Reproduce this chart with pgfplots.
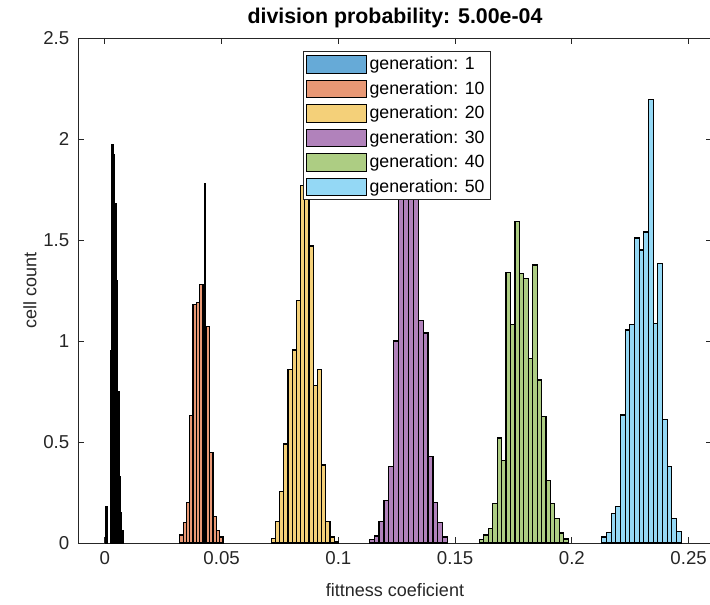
\documentclass[border=0pt]{standalone}
\usepackage{pgfplots}
\pgfplotsset{compat=1.18}
\usepackage{fontspec}
\setmainfont{Liberation Sans}
\definecolor{c1}{rgb}{0.40,0.668,0.845}
\definecolor{c2}{rgb}{0.91,0.595,0.459}
\definecolor{c3}{rgb}{0.957,0.816,0.475}
\definecolor{c4}{rgb}{0.696,0.510,0.734}
\definecolor{c5}{rgb}{0.680,0.804,0.513}
\definecolor{c6}{rgb}{0.581,0.847,0.960}
\definecolor{axgray}{rgb}{0.15,0.15,0.15}

\pgfplotstableread{
x y
0.0024 95000
0.0030 197000
0.0036 192000
0.0042 168000
0.0048 130000
0.0054 75000
0.0060 33000
0.0066 15000
0.0072 6000
0.0078 6000
}\genA
\pgfplotstableread{
x y
0.0002 18000
0.0009 18000
}\genAiso
\pgfplotstableread{
x y
0.03210 4000
0.03352 10000
0.03494 20000
0.03636 63000
0.03778 118000
0.03920 119000
0.04062 128000
0.04204 99000
0.04346 107000
0.04488 45000
0.04630 13000
0.04772 6000
0.04914 3000
0.05056 3000
}\genB
\pgfplotstableread{
x y
0.04270 178000
0.04290 178000
}\genBspike
\pgfplotstableread{
x y
0.0712 2300
0.0730 10500
0.0748 25400
0.0766 49000
0.0784 86000
0.0802 95500
0.0820 120000
0.0838 177000
0.0856 190000
0.0874 147000
0.0892 78000
0.0910 86000
0.0928 38600
0.0946 10500
0.0964 3000
0.0982 800
0.1000 800
}\genC
\pgfplotstableread{
x y
0.1132 1800
0.1153 3500
0.1174 10500
0.1195 21000
0.1216 38000
0.1237 100000
0.1258 185000
0.1279 200000
0.1300 205000
0.1321 190000
0.1342 110000
0.1363 104000
0.1384 43000
0.1405 20000
0.1426 10000
0.1447 3000
0.1468 3000
}\genD
\pgfplotstableread{
x y
0.1604 1800
0.1623 4000
0.1642 7300
0.1661 19700
0.1680 52000
0.1699 41000
0.1718 134000
0.1737 108000
0.1756 159000
0.1775 133500
0.1794 131000
0.1813 91400
0.1832 137600
0.1851 80700
0.1870 62500
0.1889 31000
0.1908 19700
0.1927 12000
0.1946 5000
0.1965 2000
0.1984 2000
}\genE
\pgfplotstableread{
x y
0.2128 3000
0.2148 5100
0.2168 14500
0.2188 18000
0.2208 63400
0.2228 105400
0.2248 108000
0.2268 151000
0.2288 145000
0.2308 154000
0.2328 219700
0.2348 108800
0.2368 138500
0.2388 61000
0.2408 37800
0.2428 12000
0.2448 5500
0.2468 5500
}\genF

\begin{document}
\begin{tikzpicture}
\begin{axis}[
  scale only axis,
  width=475.5pt, height=378.75pt,
  xmin=-0.0115, xmax=0.26, ymin=0, ymax=250000,
  axis line style={axgray, line width=0.6pt},
  tick style={axgray, line width=0.6pt},
  tick align=inside,
  xtick pos=both, ytick pos=both,
  major tick length=4.5pt,
  xtick={0,0.05,0.1,0.15,0.2,0.25},
  xticklabels={\mbox{0},\mbox{0.05},\mbox{0.1},\mbox{0.15},\mbox{0.2},\mbox{0.25}},
  ytick={0,50000,100000,150000,200000,250000},
  yticklabels={\mbox{0},\mbox{0.5},\mbox{1},\mbox{1.5},\mbox{2},\mbox{2.5}},
  scaled ticks=false,
  ticklabel style={font=\fontsize{14}{16}\selectfont, text=axgray},
  xticklabel style={yshift=-3pt},
  yticklabel style={xshift=-3pt},
  xlabel={fittness coeficient},
  ylabel={cell count},
  xlabel style={at={(rel axis cs:0.5,0)}, anchor=center, yshift=-35pt},
  ylabel style={at={(rel axis cs:-0.0757,0.5)}, anchor=center, rotate=0},
  label style={font=\fontsize{13.5}{16}\selectfont, text=axgray},
  title={division probability: 5.00e-04},
  title style={at={(rel axis cs:0.5,1)}, anchor=base, yshift=5pt, font=\bfseries\fontsize{16}{19}\selectfont},
  legend style={at={(0.3549,0.9743)}, anchor=north west, draw=axgray, line width=0.6pt, fill=white,
    font=\fontsize{13.3}{15.5}\selectfont, inner sep=2pt, row sep=3.3pt},
  legend cell align=left,
  legend image code/.code={\draw[#1, line width=0.6pt] (0pt,-6.6pt) rectangle (45pt,6.6pt);},
]
\coordinate (BL) at (rel axis cs:0,0);
\addlegendimage{fill=c1, draw=black}\addlegendentry{generation: 1}
\addlegendimage{fill=c2, draw=black}\addlegendentry{generation: 10}
\addlegendimage{fill=c3, draw=black}\addlegendentry{generation: 20}
\addlegendimage{fill=c4, draw=black}\addlegendentry{generation: 30}
\addlegendimage{fill=c5, draw=black}\addlegendentry{generation: 40}
\addlegendimage{fill=c6, draw=black}\addlegendentry{generation: 50}

\addplot[ybar interval, fill=c1, draw=black, line width=1.1pt, forget plot] table {\genA};
\addplot[ybar interval, fill=c1, draw=black, line width=1.1pt, forget plot] table {\genAiso};
\addplot[ybar interval, fill=c2, draw=black, line width=0.9pt, forget plot] table {\genB};
\addplot[ybar interval, fill=black, draw=black, line width=0.9pt, forget plot] table {\genBspike};
\addplot[ybar interval, fill=c3, draw=black, line width=0.9pt, forget plot] table {\genC};
\addplot[ybar interval, fill=c4, draw=black, line width=0.9pt, forget plot] table {\genD};
\addplot[ybar interval, fill=c5, draw=black, line width=0.9pt, forget plot] table {\genE};
\addplot[ybar interval, fill=c6, draw=black, line width=0.9pt, forget plot] table {\genF};

\node[anchor=south west, inner sep=0pt, font=\fontsize{13}{15}\selectfont, text=axgray]
  at (rel axis cs:0,1) [xshift=5pt, yshift=3pt] {×10\textsuperscript{5}};
\end{axis}
\pgfresetboundingbox
\path[use as bounding box] (BL) ++(-58.5pt,-45.75pt) rectangle ++(532.5pt,453pt);
\end{tikzpicture}
\end{document}
